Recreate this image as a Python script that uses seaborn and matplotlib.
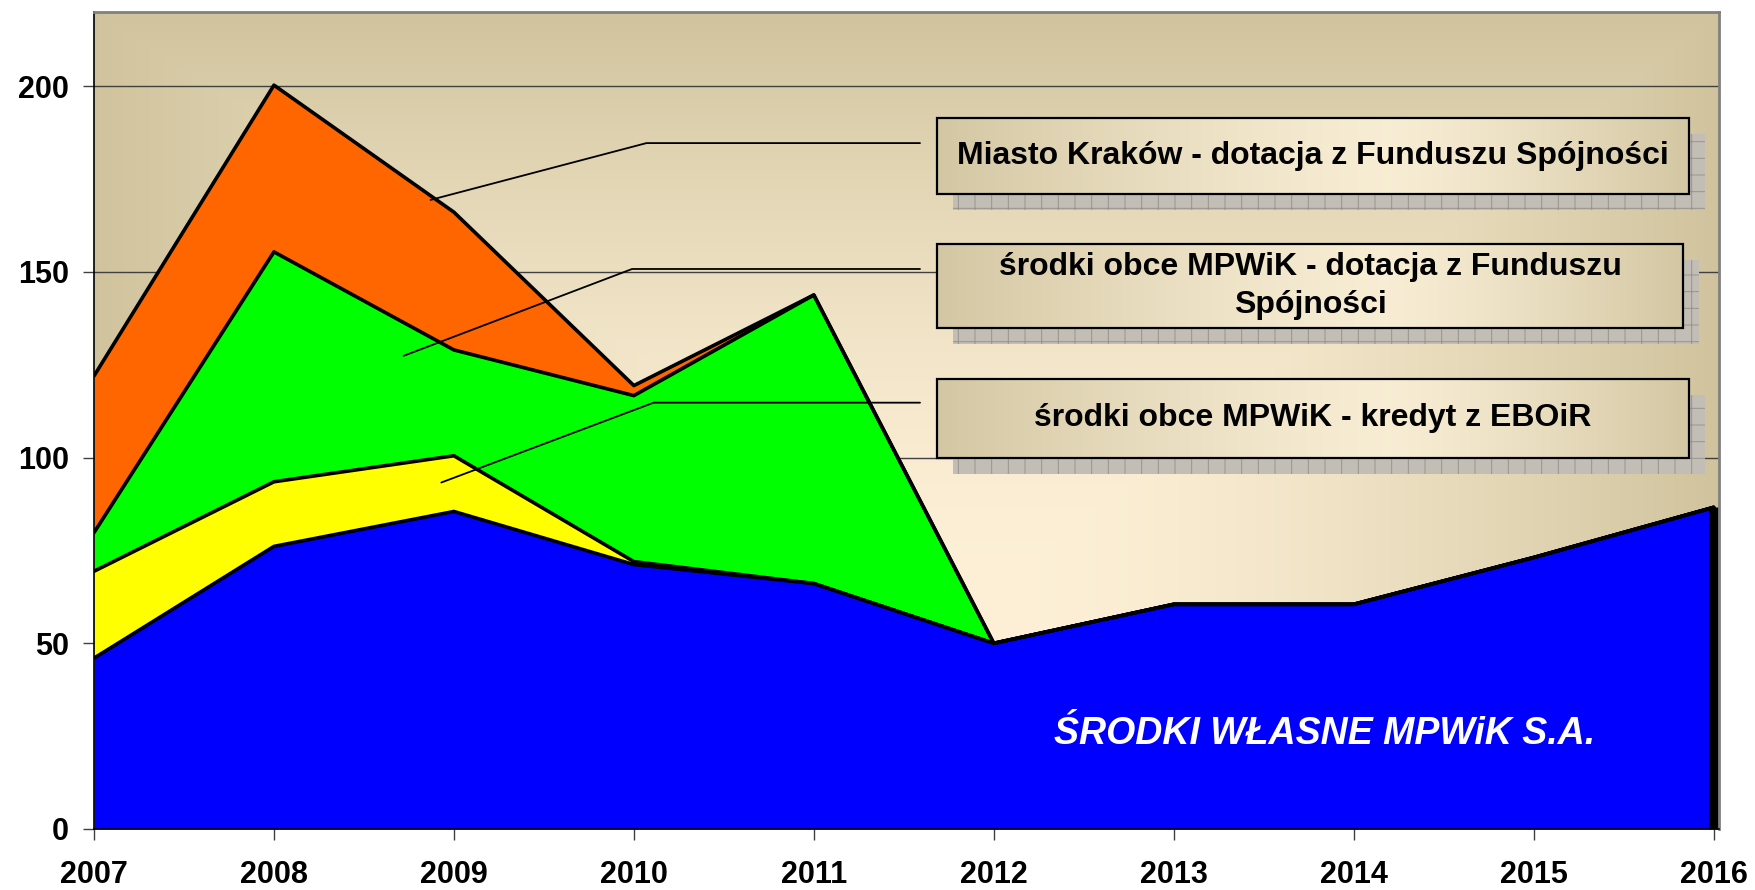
import matplotlib
matplotlib.use("Agg")
import matplotlib.pyplot as plt
from matplotlib.patches import Rectangle
import numpy as np
import pandas as pd
import seaborn as sns

# values
years = [2007, 2008, 2009, 2010, 2011, 2012, 2013, 2014, 2015, 2016]
srodki_wlasne = [46.0, 76.1, 85.5, 71.2, 66.1, 50.0, 60.5, 60.5, 73.1, 86.6]
kredyt_eboir = [23.4, 17.4, 15.0, 0.8, 0.0, 0.0, 0.0, 0.0, 0.0, 0.0]
dotacja_mpwik = [10.4, 61.9, 28.5, 44.7, 77.7, 0.0, 0.0, 0.0, 0.0, 0.0]
dotacja_miasto = [42.2, 44.9, 37.1, 2.7, 0.0, 0.0, 0.0, 0.0, 0.0, 0.0]

series_names = ["własne", "EBOiR", "FS MPWiK", "FS Miasto"]
series_colors = ["#0000ff", "#ffff00", "#00ff00", "#ff6600"]

legend_labels = [
    "Miasto Kraków - dotacja z Funduszu Spójności",
    "środki obce MPWiK - dotacja z Funduszu\nSpójności",
    "środki obce MPWiK - kredyt z EBOiR",
]
area_label = "ŚRODKI WŁASNE MPWiK S.A."
y_ticks = [0, 50, 100, 150, 200]

sns.set_theme(style="white")
plt.rcParams["font.family"] = ["Liberation Sans", "DejaVu Sans"]
plt.rcParams["font.weight"] = "bold"
plt.rcParams["hatch.linewidth"] = 0.7

df = pd.DataFrame({
    "year": years,
    "własne": srodki_wlasne,
    "EBOiR": kredyt_eboir,
    "FS MPWiK": dotacja_mpwik,
    "FS Miasto": dotacja_miasto,
})
cum = df[series_names].cumsum(axis=1)
cum["year"] = df["year"]
long_df = cum.melt(id_vars="year", var_name="series", value_name="value")

fig = plt.figure(figsize=(17.56, 8.90), dpi=100)
ax = fig.add_axes([94 / 1756, 1 - 829 / 890, (1719 - 94) / 1756, (829 - 12) / 890])

# background gradient of the plot area
edge = np.array([0.815, 0.765, 0.615])
centre = np.array([0.99, 0.94, 0.84])
gx = np.linspace(0, 1, 400)
gy = np.linspace(0, 1, 200)
X, Y = np.meshgrid(gx, gy)
dx = np.where(X < 0.56, (0.56 - X) / 0.56, (X - 0.56) / 0.44)
dy = np.where(Y > 0.3, (Y - 0.3) / 0.7, 0.0)
t = np.clip(np.maximum(dx, dy), 0, 1) ** 1.6
bg = centre[None, None, :] * (1 - t[..., None]) + edge[None, None, :] * t[..., None]
ax.imshow(bg, extent=[0, 1, 0, 1], transform=ax.transAxes, origin="lower",
          aspect="auto", zorder=0, interpolation="bilinear")

for yv in y_ticks[1:]:
    ax.axhline(yv, color="#404040", lw=1.0, zorder=1)

# stacked areas
lower = np.zeros(len(years))
for name, col in zip(series_names, series_colors):
    upper = cum[name].to_numpy()
    ax.fill_between(years, lower, upper, color=col, lw=0, zorder=2)
    lower = upper

sns.lineplot(data=long_df, x="year", y="value", hue="series",
             palette=["black"] * 4, linewidth=2.6, legend=False, ax=ax, zorder=3)
ax.vlines(years[-1], 0, cum["FS Miasto"].iloc[-1], color="black", lw=8,
          zorder=3, clip_on=False)

# leader lines to the labels
leaders = [
    [(2008.87, 169.4), (2010.07, 184.7), (2011.59, 184.7)],
    [(2008.72, 127.4), (2009.99, 150.8), (2011.59, 150.8)],
    [(2008.93, 93.3), (2010.11, 114.8), (2011.59, 114.8)],
]
for pts in leaders:
    xs, ys = zip(*pts)
    ax.plot(xs, ys, color="black", lw=1.3, zorder=4)

# label boxes (axes fraction)
boxes = [
    (0.519, 0.777, 0.9815, 0.870),
    (0.519, 0.613, 0.978, 0.716),
    (0.519, 0.454, 0.9815, 0.551),
]
sx, sy = 16 / 1625, 16 / 817
bx = np.linspace(0, 1, 300)
box_t = np.clip(np.where(bx < 0.6, (0.6 - bx) / 0.6, (bx - 0.6) / 0.4), 0, 1) ** 1.3
box_edge = np.array([0.83, 0.78, 0.64])
box_centre = np.array([0.97, 0.93, 0.83])
box_grad = box_centre[None, None, :] * (1 - box_t[None, :, None]) + box_edge[None, None, :] * box_t[None, :, None]
for (x0, y0, x1, y1), label in zip(boxes, legend_labels):
    ax.add_patch(Rectangle((x0 + sx, y0 - sy), x1 - x0, y1 - y0, transform=ax.transAxes,
                           facecolor="#c2beb6", edgecolor="#97948f", hatch="+",
                           lw=0, zorder=5))
    ax.imshow(box_grad, extent=[x0, x1, y0, y1], transform=ax.transAxes,
              aspect="auto", zorder=6, interpolation="bilinear")
    ax.add_patch(Rectangle((x0, y0), x1 - x0, y1 - y0, transform=ax.transAxes,
                           facecolor="none", edgecolor="black", lw=1.6, zorder=7))
    ax.text((x0 + x1) / 2, (y0 + y1) / 2, label, transform=ax.transAxes,
            ha="center", va="center", fontsize=23, fontweight="bold",
            color="black", linespacing=1.35, zorder=8)

ax.text(2013.84, 25.5, area_label, ha="center", va="center", fontsize=27,
        fontweight="bold", fontstyle="italic", color="white", zorder=8)

ax.set_xlim(2007, 2016.03)
ax.set_ylim(0, 220)
ax.set_xticks(years)
ax.set_xticklabels([str(y) for y in years])
ax.set_yticks(y_ticks)
ax.set_xlabel("")
ax.set_ylabel("")
ax.tick_params(axis="x", direction="out", length=8, width=1, color="#404040",
               pad=14, labelsize=22, bottom=True)
ax.tick_params(axis="y", direction="out", length=8, width=1, color="#404040",
               pad=10, labelsize=22, left=True)
for lab in ax.get_xticklabels() + ax.get_yticklabels():
    lab.set_fontweight("bold")
    lab.set_color("black")

for side in ["top", "right"]:
    ax.spines[side].set_color("#808080")
    ax.spines[side].set_linewidth(2)
for side in ["left", "bottom"]:
    ax.spines[side].set_color("black")
    ax.spines[side].set_linewidth(1.2)
for sp in ax.spines.values():
    sp.set_zorder(9)

fig.savefig("out.png", dpi=100, facecolor="white")
